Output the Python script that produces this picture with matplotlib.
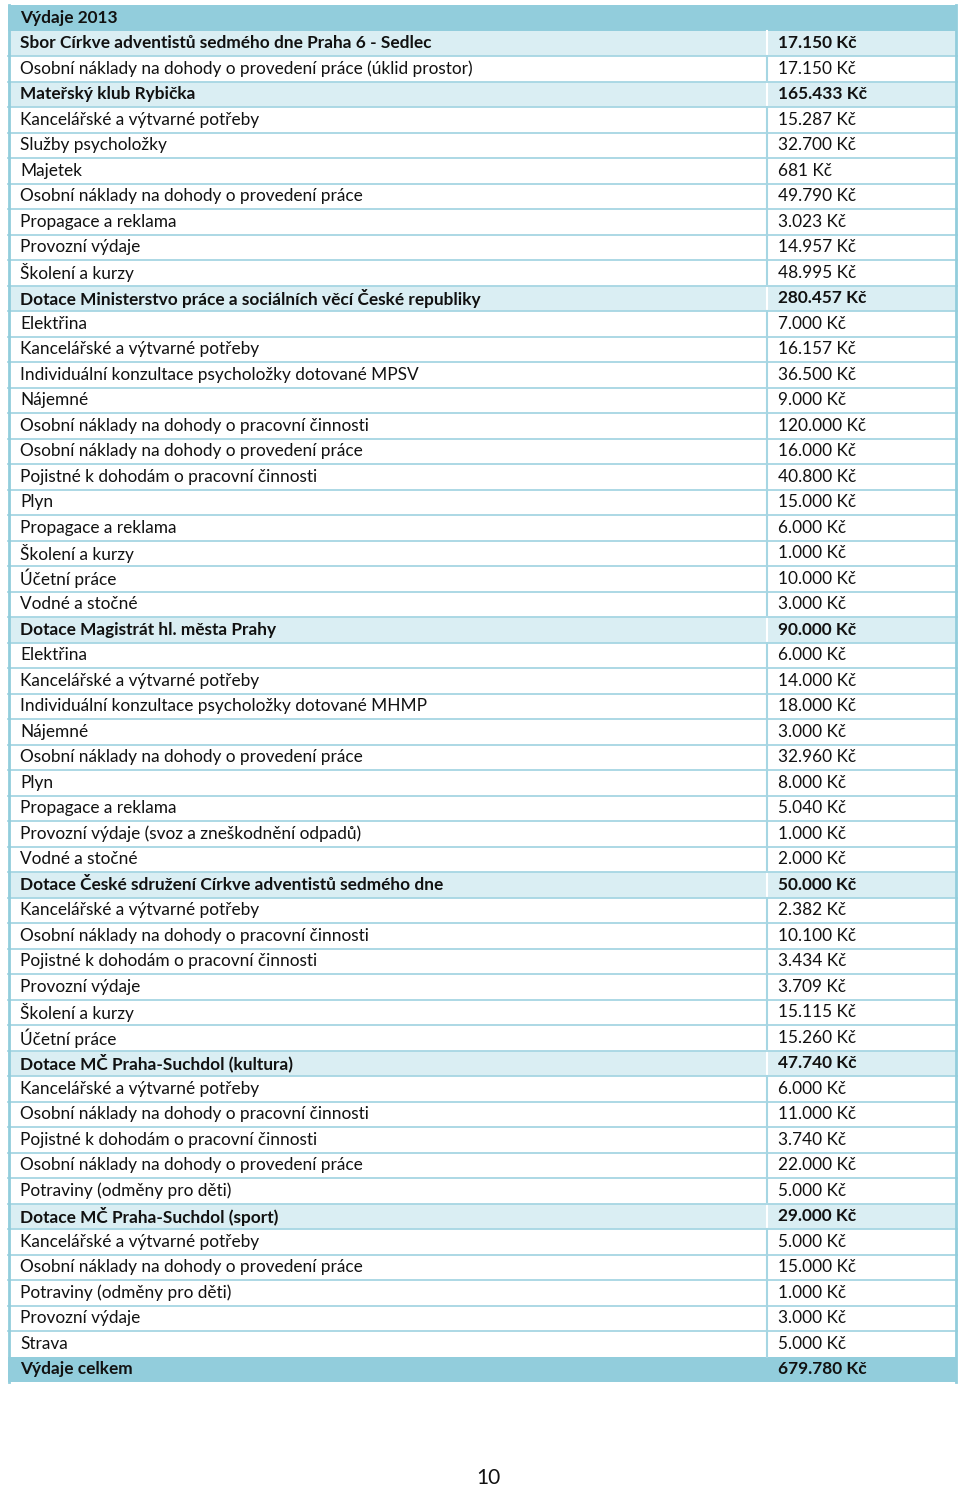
import matplotlib.pyplot as plt
from matplotlib.patches import Rectangle

plt.rcParams['font.family'] = ['Lato', 'DejaVu Sans']

title = "Výdaje 2013"
items = [
    "Sbor Církve adventistů sedmého dne Praha 6 - Sedlec",
    "Osobní náklady na dohody o provedení práce (úklid prostor)",
    "Mateřský klub Rybička",
    "Kancelářské a výtvarné potřeby",
    "Služby psycholožky",
    "Majetek",
    "Osobní náklady na dohody o provedení práce",
    "Propagace a reklama",
    "Provozní výdaje",
    "Školení a kurzy",
    "Dotace Ministerstvo práce a sociálních věcí České republiky",
    "Elektřina",
    "Kancelářské a výtvarné potřeby",
    "Individuální konzultace psycholožky dotované MPSV",
    "Nájemné",
    "Osobní náklady na dohody o pracovní činnosti",
    "Osobní náklady na dohody o provedení práce",
    "Pojistné k dohodám o pracovní činnosti",
    "Plyn",
    "Propagace a reklama",
    "Školení a kurzy",
    "Účetní práce",
    "Vodné a stočné",
    "Dotace Magistrát hl. města Prahy",
    "Elektřina",
    "Kancelářské a výtvarné potřeby",
    "Individuální konzultace psycholožky dotované MHMP",
    "Nájemné",
    "Osobní náklady na dohody o provedení práce",
    "Plyn",
    "Propagace a reklama",
    "Provozní výdaje (svoz a zneškodnění odpadů)",
    "Vodné a stočné",
    "Dotace České sdružení Církve adventistů sedmého dne",
    "Kancelářské a výtvarné potřeby",
    "Osobní náklady na dohody o pracovní činnosti",
    "Pojistné k dohodám o pracovní činnosti",
    "Provozní výdaje",
    "Školení a kurzy",
    "Účetní práce",
    "Dotace MČ Praha-Suchdol (kultura)",
    "Kancelářské a výtvarné potřeby",
    "Osobní náklady na dohody o pracovní činnosti",
    "Pojistné k dohodám o pracovní činnosti",
    "Osobní náklady na dohody o provedení práce",
    "Potraviny (odměny pro děti)",
    "Dotace MČ Praha-Suchdol (sport)",
    "Kancelářské a výtvarné potřeby",
    "Osobní náklady na dohody o provedení práce",
    "Potraviny (odměny pro děti)",
    "Provozní výdaje",
    "Strava",
]
amounts = [
    17150, 17150, 165433, 15287, 32700, 681, 49790, 3023, 14957, 48995,
    280457, 7000, 16157, 36500, 9000, 120000, 16000, 40800, 15000, 6000,
    1000, 10000, 3000, 90000, 6000, 14000, 18000, 3000, 32960, 8000,
    5040, 1000, 2000, 50000, 2382, 10100, 3434, 3709, 15115, 15260,
    47740, 6000, 11000, 3740, 22000, 5000, 29000, 5000, 15000, 1000,
    3000, 5000,
]
# skupiny (tucne radky)
groups = [0, 2, 10, 23, 33, 40, 46]
total_label = "Výdaje celkem"
total = 679780
page_no = "10"

dark = '#92CDDC'
light = '#DAEEF3'
line = '#A6D6E3'
txt = '#111111'


def kc(v):
    return f"{v:,}".replace(",", ".") + " Kč"


fig = plt.figure(figsize=(9.6, 14.87), dpi=100)
ax = fig.add_axes([0, 0, 1, 1])
ax.set_xlim(0, 960)
ax.set_ylim(1487, 0)
ax.axis('off')

x0, x1, x2 = 8, 767, 957
top = 5
h = 25.5
fs = 12.4
n = len(items) + 2
bottom = top + n * h

# hlavicka
ax.add_patch(Rectangle((x0, top), x2 - x0, h, facecolor=dark, edgecolor='none'))
ax.text(20, top + h / 2, title, fontsize=fs, fontweight='bold', va='center', color=txt)

for i, (name, val) in enumerate(zip(items, amounts)):
    y = top + (i + 1) * h
    bold = i in groups
    fc = light if bold else 'white'
    ax.add_patch(Rectangle((x0, y), x2 - x0, h, facecolor=fc, edgecolor='none'))
    ax.plot([x1, x1], [y, y + h], color='white' if bold else line, lw=1.5)
    w = 'bold' if bold else 'normal'
    ax.text(20, y + h / 2, name, fontsize=fs, fontweight=w, va='center', color=txt)
    ax.text(778, y + h / 2, kc(val), fontsize=fs, fontweight=w, va='center', color=txt)

# celkem
y = top + (len(items) + 1) * h
ax.add_patch(Rectangle((x0, y), x2 - x0, h, facecolor=dark, edgecolor='none'))
ax.text(20, y + h / 2, total_label, fontsize=fs, fontweight='bold', va='center', color=txt)
ax.text(778, y + h / 2, kc(total), fontsize=fs, fontweight='bold', va='center', color=txt)

# vodorovne cary mezi radky
for k in range(2, n - 1):
    ax.plot([x0, x2], [top + k * h, top + k * h], color=line, lw=1.3)
# okraje
ax.plot([x0 + 1, x0 + 1], [top, bottom], color=dark, lw=2)
ax.plot([x2 - 1, x2 - 1], [top, bottom], color=dark, lw=2)

ax.text(488, 1478, page_no, fontsize=15, ha='center', va='center', color=txt)

fig.savefig("out.png", dpi=100)
